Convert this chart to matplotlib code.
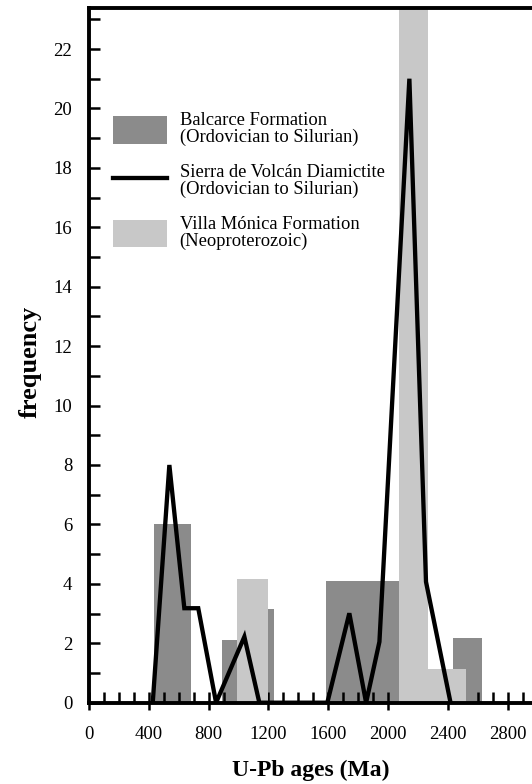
import numpy as np
import matplotlib
matplotlib.use("Agg")
import matplotlib.pyplot as plt
from matplotlib.patches import Patch
from matplotlib.lines import Line2D
from matplotlib.ticker import MultipleLocator

plt.rcParams['font.family'] = ['Liberation Serif', 'DejaVu Serif']

# Balcarce Formation histogram (bin edges in Ma, frequency)
balcarce_left = [435, 888, 1060, 1585, 2435]
balcarce_right = [685, 1060, 1237, 2074, 2625]
balcarce_freq = [6.0, 2.1, 3.15, 4.08, 2.17]

# Villa Mónica Formation histogram
villa_left = [988, 2074, 2268]
villa_right = [1195, 2268, 2518]
villa_freq = [4.16, 24.0, 1.12]

# Sierra de Volcán Diamictite frequency polygon
sierra_age = [427, 538, 638, 731, 850, 1039, 1139, 1593, 1740, 1852, 1941, 2141, 2252, 2416]
sierra_freq = [0, 8.0, 3.18, 3.18, 0, 2.22, 0, 0, 3.01, 0, 2.05, 21.0, 4.07, 0]

dark = '#8b8b8b'
light = '#c8c8c8'

fig = plt.figure(figsize=(5.32, 7.84), dpi=100)
ax = fig.add_axes([88.8 / 532, 81.3 / 784, 1 - 88.8 / 532, 694.7 / 784])

bl = np.array(balcarce_left)
ax.bar(bl, balcarce_freq, width=np.array(balcarce_right) - bl,
       align='edge', color=dark, linewidth=0, zorder=1)
vl = np.array(villa_left)
ax.bar(vl, villa_freq, width=np.array(villa_right) - vl,
       align='edge', color=light, linewidth=0, zorder=2)
ax.plot(sierra_age, sierra_freq, color='black', lw=3.1, zorder=3,
        solid_joinstyle='miter')

ax.set_xlim(0, 2960)
ax.set_ylim(0, 23.38)

for side in ['left', 'bottom', 'top']:
    ax.spines[side].set_linewidth(2.8)
ax.spines['right'].set_visible(False)

# x: labelled ticks every 400 pointing out, small ticks every 100 pointing in
ax.xaxis.set_major_locator(MultipleLocator(400))
ax.xaxis.set_minor_locator(MultipleLocator(100))
ax.xaxis.remove_overlapping_locs = False
ax.tick_params(axis='x', which='major', direction='out', length=5, width=1.8,
               labelsize=13.5, pad=12, top=False)
ax.tick_params(axis='x', which='minor', direction='in', length=8, width=1.8, top=False)

ax.yaxis.set_major_locator(MultipleLocator(2))
ax.yaxis.set_minor_locator(MultipleLocator(1))
ax.tick_params(axis='y', which='both', direction='in', length=8, width=1.8,
               right=False)
ax.tick_params(axis='y', which='major', labelsize=13.5, pad=12)

ax.set_xlabel('U-Pb ages (Ma)', fontsize=17, fontweight='bold', labelpad=12)
ax.set_ylabel('frequency', fontsize=19, fontweight='bold')
ax.yaxis.set_label_coords(-0.106, 0.49)

handles = [Patch(facecolor=dark, edgecolor='none'),
           Line2D([], [], color='black', lw=3.1),
           Patch(facecolor=light, edgecolor='none')]
labels = ['Balcarce Formation\n(Ordovician to Silurian)',
          'Sierra de Volcán Diamictite\n(Ordovician to Silurian)',
          'Villa Mónica Formation\n(Neoproterozoic)']
leg = ax.legend(handles, labels, loc='upper left',
                bbox_to_anchor=(113 / 532, 1 - 112 / 784),
                bbox_transform=fig.transFigure, frameon=False, fontsize=13.3,
                handlelength=2.9, handleheight=1.95, handletextpad=0.7,
                labelspacing=0.95, borderpad=0, borderaxespad=0)
for t in leg.get_texts():
    t.set_linespacing(1.0)

fig.savefig('out.png', dpi=100)
